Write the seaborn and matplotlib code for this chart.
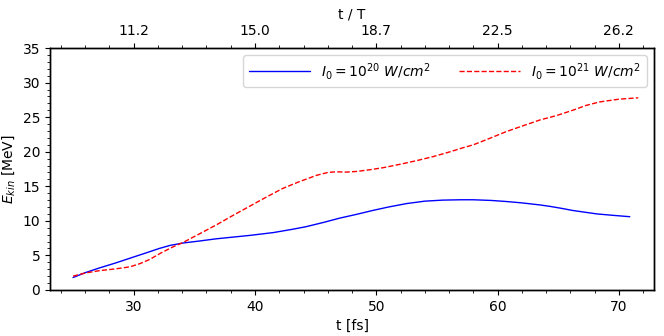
import numpy as np
import pandas as pd
import seaborn as sns
import matplotlib
matplotlib.use("Agg")
import matplotlib.pyplot as plt
from matplotlib.ticker import AutoMinorLocator, MultipleLocator

sns.set_style("ticks", {"axes.edgecolor": "black", "xtick.color": "black",
                        "ytick.color": "black", "text.color": "black",
                        "axes.labelcolor": "black"})

# laser period in fs (800 nm)
T_PERIOD = 2.67

# I0 = 1e20 W/cm^2
t_low = [25.0, 26.0, 27.2, 28.5, 29.7, 31.0, 32.1, 33.0, 34.1, 35.5, 36.8, 38.2,
         39.6, 41.5, 43.0, 44.2, 45.6, 47.0, 48.4, 49.7, 51.0, 52.5, 54.0, 55.5,
         57.0, 58.0, 59.5, 60.7, 62.0, 63.5, 64.3, 65.3, 66.2, 67.2, 68.2, 69.5, 70.9]
e_low = [1.8, 2.5, 3.2, 3.9, 4.6, 5.35, 6.0, 6.45, 6.8, 7.1, 7.4, 7.65,
         7.9, 8.3, 8.75, 9.15, 9.75, 10.4, 10.95, 11.5, 12.0, 12.5, 12.85, 13.0,
         13.05, 13.05, 12.95, 12.8, 12.6, 12.3, 12.1, 11.8, 11.5, 11.25, 11.0, 10.8, 10.6]

# I0 = 1e21 W/cm^2
t_high = [25.0, 26.0, 27.2, 28.5, 29.7, 30.5, 31.3, 32.3, 33.2, 34.1, 35.4, 36.8,
          38.2, 39.6, 41.0, 42.3, 43.7, 45.1, 46.0, 46.7, 47.5, 48.4, 49.5, 50.6,
          52.0, 53.3, 54.7, 56.1, 57.0, 58.0, 59.3, 60.7, 62.0, 63.5, 64.8, 66.2,
          67.3, 68.4, 70.0, 71.6]
e_high = [2.0, 2.45, 2.8, 3.05, 3.35, 3.8, 4.4, 5.4, 6.2, 6.9, 8.1, 9.4,
          10.8, 12.15, 13.5, 14.7, 15.7, 16.6, 17.0, 17.1, 17.05, 17.15, 17.4, 17.7,
          18.2, 18.7, 19.3, 20.0, 20.5, 21.0, 21.9, 22.9, 23.7, 24.6, 25.2, 26.0,
          26.7, 27.2, 27.6, 27.8]

label_low = r'$I_0 = 10^{20}\ W/cm^2$'
label_high = r'$I_0 = 10^{21}\ W/cm^2$'
top_ticks = [30, 40, 50, 60, 70]

fig, ax = plt.subplots(figsize=(6.64, 3.36), dpi=100)
fig.subplots_adjust(left=0.0753, right=0.985, bottom=0.137, top=0.857)

sns.lineplot(x=t_low, y=e_low, color="blue", lw=1.0, label=label_low,
             estimator=None, sort=False, ax=ax)
sns.lineplot(x=t_high, y=e_high, color="red", lw=1.0, linestyle="--",
             label=label_high, estimator=None, sort=False, ax=ax)

ax.set_xlim(23.1, 72.9)
ax.set_ylim(0, 35)
ax.yaxis.set_major_locator(MultipleLocator(5))
ax.xaxis.set_minor_locator(AutoMinorLocator())
ax.yaxis.set_minor_locator(AutoMinorLocator())
ax.set_xlabel("t [fs]")
ax.set_ylabel(r"$E_{kin}$ [MeV]")

ax.legend(loc="upper right", ncol=2, handlelength=4.4, fontsize=10)

ax2 = ax.twiny()
ax2.set_xlim(ax.get_xlim())
ax2.set_xticks(top_ticks)
ax2.set_xticklabels(["%.1f" % (t / T_PERIOD) for t in top_ticks])
ax2.xaxis.set_minor_locator(AutoMinorLocator())
ax2.set_xlabel("t / T")

for a in (ax, ax2):
    for s in a.spines.values():
        s.set_color("black")
        s.set_linewidth(1.0)

fig.savefig("out.png", dpi=100)
